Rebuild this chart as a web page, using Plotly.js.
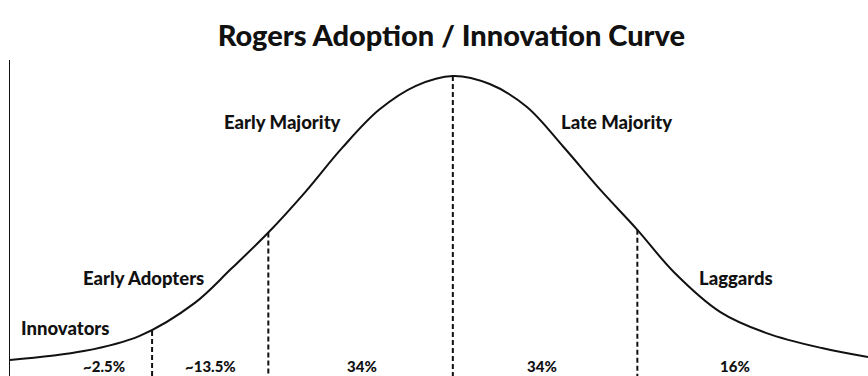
<!DOCTYPE html>
<html>
<head>
<meta charset="utf-8">
<script src="https://cdn.plot.ly/plotly-3.0.1.min.js"></script>
<style>
  html, body { margin: 0; padding: 0; background: #fff; }
  #plot { width: 868px; height: 376px; }
</style>
</head>
<body>
<div id="plot"></div>
<script>
// Curve: x in standard deviations from the mean, y as % of the peak
var curveX = [-2.40, -2.00, -1.70, -1.40, -1.20, -1.00, -0.80, -0.60, -0.40, -0.20, 0,
              0.20, 0.40, 0.60, 0.80, 1.00, 1.20, 1.45, 1.70, 2.00, 2.25];
var curveY = [5.3, 8.3, 13.3, 24.3, 35.8, 47.8, 61.3, 76.0, 88.7, 96.7, 100,
              97.3, 89.7, 76.3, 62.0, 48.7, 34.5, 21.3, 14.3, 9.3, 6.3];

// Dashed dividers between the adopter groups
var dividerX = [-1.63, -1.00, 0, 1.00];
var dividerTop = [15.0, 47.8, 100, 48.7];

// Group names
var groupNames = ['Innovators', 'Early Adopters', 'Early Majority', 'Late Majority', 'Laggards'];
var groupX = [-2.35, -1.675, -0.921, 0.889, 1.534];
var groupY = [16, 32.7, 84.7, 84.7, 32.7];

// Share of adopters in each segment
var shareText = ['~2.5%', '~13.5%', '34%', '34%', '16%'];
var shareX = [-1.892, -1.312, -0.493, 0.482, 1.528];
var shareY = 3.2;

document.addEventListener('DOMContentLoaded', function () {
    var dashX = [];
    var dashY = [];
    for (var i = 0; i < dividerX.length; i++) {
        dashX.push(dividerX[i], dividerX[i], null);
        dashY.push(dividerTop[i], 0, null);
    }

    var traces = [
        {
            x: curveX, y: curveY,
            type: 'scatter', mode: 'lines',
            line: { color: '#111', width: 2, shape: 'spline', smoothing: 1 },
            hoverinfo: 'skip'
        },
        {
            x: dashX, y: dashY,
            type: 'scatter', mode: 'lines',
            line: { color: '#111', width: 2, dash: '5px,3px' },
            hoverinfo: 'skip'
        }
    ];

    var font = 'Lato, "Open Sans", sans-serif';
    var annotations = [];
    for (var i = 0; i < groupNames.length; i++) {
        annotations.push({
            x: groupX[i], y: groupY[i], text: groupNames[i],
            showarrow: false, xanchor: i === 0 ? 'left' : 'center',
            font: { family: font, size: 18.5, color: '#111', weight: 900 }
        });
    }
    for (var i = 0; i < shareText.length; i++) {
        annotations.push({
            x: shareX[i], y: shareY, text: shareText[i],
            showarrow: false,
            font: { family: font, size: 15, color: '#111', weight: 900 }
        });
    }

    var layout = {
        width: 868, height: 376,
        margin: { l: 10, r: 0, t: 60, b: 0 },
        paper_bgcolor: '#fff', plot_bgcolor: '#fff',
        showlegend: false,
        title: {
            text: 'Rogers Adoption / Innovation Curve',
            x: 0.52, xanchor: 'center', y: 0.905, yanchor: 'middle',
            font: { family: font, size: 29, color: '#111', weight: 900 }
        },
        xaxis: {
            range: [-2.40, 2.25], showgrid: false, zeroline: false,
            showticklabels: false, ticks: '', showline: false, fixedrange: true
        },
        yaxis: {
            range: [0, 105.3], showgrid: false, zeroline: false,
            showticklabels: false, ticks: '',
            showline: true, linecolor: '#111', linewidth: 1.5, fixedrange: true
        },
        annotations: annotations
    };

    Plotly.newPlot('plot', traces, layout, { displayModeBar: false, staticPlot: true });
});
</script>
</body>
</html>
